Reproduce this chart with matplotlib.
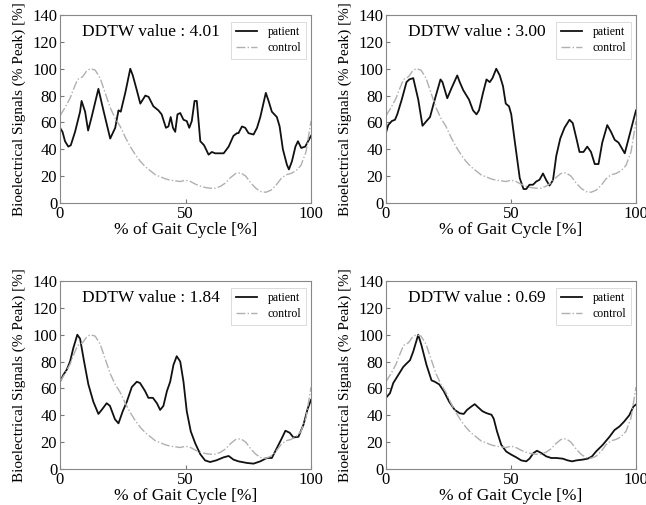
import numpy as np
import matplotlib
matplotlib.use("Agg")
import matplotlib.pyplot as plt

plt.rcParams['font.family'] = ['Liberation Serif', 'DejaVu Serif']

# control (healthy reference) curve, same in every panel
control_x = [0, 2, 4, 5, 7, 9, 10.5, 12, 14, 16, 18, 20, 22, 24, 26, 28, 30, 32,
             34, 36, 38, 40, 42, 44, 46, 48, 50, 52, 54, 56, 58, 60, 62, 64, 66,
             68, 70, 72, 74, 76, 78, 80, 82, 84, 86, 88, 90, 92, 94, 96, 98, 100]
control_y = [65, 71, 78, 83, 92, 94, 98, 100, 99, 93, 82, 71, 63, 57, 49, 42, 36,
             31, 27, 24, 21, 19.5, 18, 17, 16.5, 16, 17, 16, 14, 12.5, 11.5, 11,
             11, 12.5, 15, 19, 22, 22.5, 20, 15, 11, 8.5, 8, 9.5, 13, 18, 21, 22,
             24, 28, 38, 61]

# patient curves
p1_x = [0, 1, 2, 3.3, 4.3, 6, 8, 8.6, 10, 11.2, 12.6, 15.3, 17.3, 20, 22, 23.3,
        24.2, 26, 28, 29, 30.6, 32, 34, 35.3, 37.2, 39.2, 40.5, 42.2, 43.2, 44.1,
        45, 45.9, 46.8, 47.9, 49.2, 50.5, 51.5, 52.5, 53.6, 54.5, 55.9, 57.4,
        59.2, 60.5, 61.8, 63.2, 65.2, 67.2, 69.1, 70.5, 71.1, 72.5, 73.8, 75.1,
        77.1, 78.5, 79.8, 82, 83.1, 84.4, 86.4, 87.5, 88.8, 90.4, 91.2, 92.4,
        93.8, 94.8, 96.1, 97.7, 100]
p1_y = [56, 53, 46, 42, 43, 53, 68, 76, 68, 54, 64, 85, 69, 48, 56, 69, 68, 82,
        100, 95, 84, 74, 80, 79, 72, 69, 66, 56, 57, 64, 56, 53, 66, 67, 62, 61,
        56, 61, 76, 76, 46, 43, 36, 38, 37, 37, 37, 42, 50, 52, 52, 57, 56, 52,
        51, 56, 64, 82, 76, 68, 64, 57, 40, 28.5, 25, 31, 42, 46, 41, 42, 50]

p2_x = [0, 0.9, 2.3, 3.6, 4.5, 6.3, 8.2, 9.3, 10.9, 12.9, 14.6, 16.2, 17.6, 19.5,
        21.8, 22.6, 24.5, 26.2, 28.5, 29.5, 30.9, 33.2, 34.8, 36.2, 37.2, 38.8,
        40.2, 41.5, 42.6, 44.1, 45.5, 46.8, 47.9, 49.2, 50.1, 51.5, 53.5, 55,
        56.1, 57.4, 58.8, 60.1, 61.4, 62.8, 64.1, 65.4, 66.8, 68.1, 69.7, 71.4,
        73.4, 74.7, 76.3, 77.4, 79, 80.5, 82, 83.5, 85, 86.5, 88.5, 90, 91.5, 93,
        95.5, 100]
p2_y = [52.5, 58, 61, 62, 66, 77, 90, 92, 93, 77, 57.5, 61, 64, 77, 92, 90, 78,
        85.5, 95, 90, 84, 77, 69, 66, 69, 82, 92, 90, 93, 100, 95, 87, 74, 72, 66,
        46, 18.5, 10.4, 10.4, 13.6, 13.6, 16, 17.3, 22, 17, 13, 17, 35, 48, 56,
        62, 59.5, 47, 38, 38, 42, 38, 29, 29, 45, 58, 53, 47, 45, 37, 69]

p3_x = [0, 1.3, 2.7, 4, 5.3, 6.9, 8, 9.6, 11.3, 13.3, 15.3, 16.6, 18.6, 19.9,
        21.9, 23.3, 25, 26.6, 28.6, 30.6, 31.9, 33.9, 35.2, 37, 38.6, 39.9, 41.2,
        42.6, 43.9, 45.2, 46.5, 47.9, 49.2, 50.5, 52.1, 53.9, 55.9, 57.8, 59.8,
        62.2, 65.2, 67.2, 69.1, 71.1, 74.5, 77.1, 79.8, 82.4, 84.4, 86.4, 88.4,
        89.8, 91.5, 93, 95, 97, 98.7, 100]
p3_y = [65, 70, 74, 80, 90, 100, 97, 80, 63, 50, 41, 44, 49, 47, 37, 34, 43, 50,
        61, 65, 64, 58, 53, 53, 49, 44, 47, 58, 65, 77.5, 84, 80, 65, 43, 28, 19,
        11, 6.4, 5.2, 6.4, 8.7, 9.7, 7, 5.7, 4.5, 4, 5.7, 8.2, 8.2, 15.6, 23,
        28.5, 27, 23.5, 24, 33, 45, 51.5]

p4_x = [0, 1.6, 2.9, 4.9, 6.9, 8.2, 9.6, 10.9, 12.9, 14.2, 16.2, 18.2, 19.5,
        21.3, 23.1, 25.3, 27.5, 29.5, 31.1, 32.4, 34.2, 35.5, 36.8, 38.6, 40.2,
        42.2, 43.1, 44.4, 46.1, 48.1, 50.1, 52.1, 54.1, 56.1, 57.4, 59, 60.4,
        62.1, 64.1, 66.1, 68.1, 70.7, 72.7, 74.5, 76.1, 78.7, 80.7, 82.4, 84,
        86.7, 89.4, 91.4, 93.4, 95.3, 97.3, 99, 100]
p4_y = [53, 56.5, 64, 70, 76, 78.5, 81, 87.5, 100, 92, 77.5, 66, 65, 63, 58, 50,
        44, 41.5, 41, 44, 46.6, 48.3, 46, 43, 41.6, 40.4, 37.4, 28, 18, 13, 10.7,
        8.7, 6.4, 5.7, 7.7, 11.9, 13.6, 11.9, 9.4, 8.2, 8.2, 7.7, 6.4, 5.7, 6.4,
        7, 7.7, 9.4, 13, 18, 24, 29, 31.7, 35.4, 40, 46.6, 48]

ddtw_values = ["4.01", "3.00", "1.84", "0.69"]
patients = [(p1_x, p1_y), (p2_x, p2_y), (p3_x, p3_y), (p4_x, p4_y)]

fig = plt.figure(figsize=(6.46, 5.05), dpi=100)
W, H = 646, 505
boxes = [(60, 15, 311, 203), (386, 15, 636, 203),
         (60, 281, 311, 469), (386, 281, 636, 469)]

for (l, t, r, b), (px, py), val in zip(boxes, patients, ddtw_values):
    ax = fig.add_axes([l / W, 1 - b / H, (r - l) / W, (b - t) / H])
    ax.plot(px, py, color='#111111', lw=1.3, label='patient')
    ax.plot(control_x, control_y, color='#b0b0b0', lw=1.0, ls='-.',
            label='control')
    ax.set_xlim(0, 100)
    ax.set_ylim(0, 140)
    ax.set_xticks([0, 50, 100])
    ax.set_yticks(range(0, 141, 20))
    ax.tick_params(direction='in', labelsize=12, length=3, color='#777777',
                   pad=2)
    for s in ax.spines.values():
        s.set_color('#888888')
        s.set_linewidth(0.8)
    ax.set_xlabel('% of Gait Cycle [%]', fontsize=12.5, labelpad=0)
    ax.set_ylabel('Bioelectrical Signals (% Peak) [%]', fontsize=11,
                  labelpad=4.5)
    ax.text(0.088, 0.91, f'DDTW value : {val}', transform=ax.transAxes,
            fontsize=12.5, va='center', ha='left')
    leg = ax.legend(loc='upper right', fontsize=8.5, handlelength=1.8,
                    handletextpad=0.9, labelspacing=0.3, borderpad=0.4,
                    borderaxespad=0.0, frameon=True, fancybox=False,
                    bbox_to_anchor=(0.98, 0.965))
    leg.get_frame().set_edgecolor('#cccccc')
    leg.get_frame().set_linewidth(0.6)

fig.savefig('out.png', dpi=100)
